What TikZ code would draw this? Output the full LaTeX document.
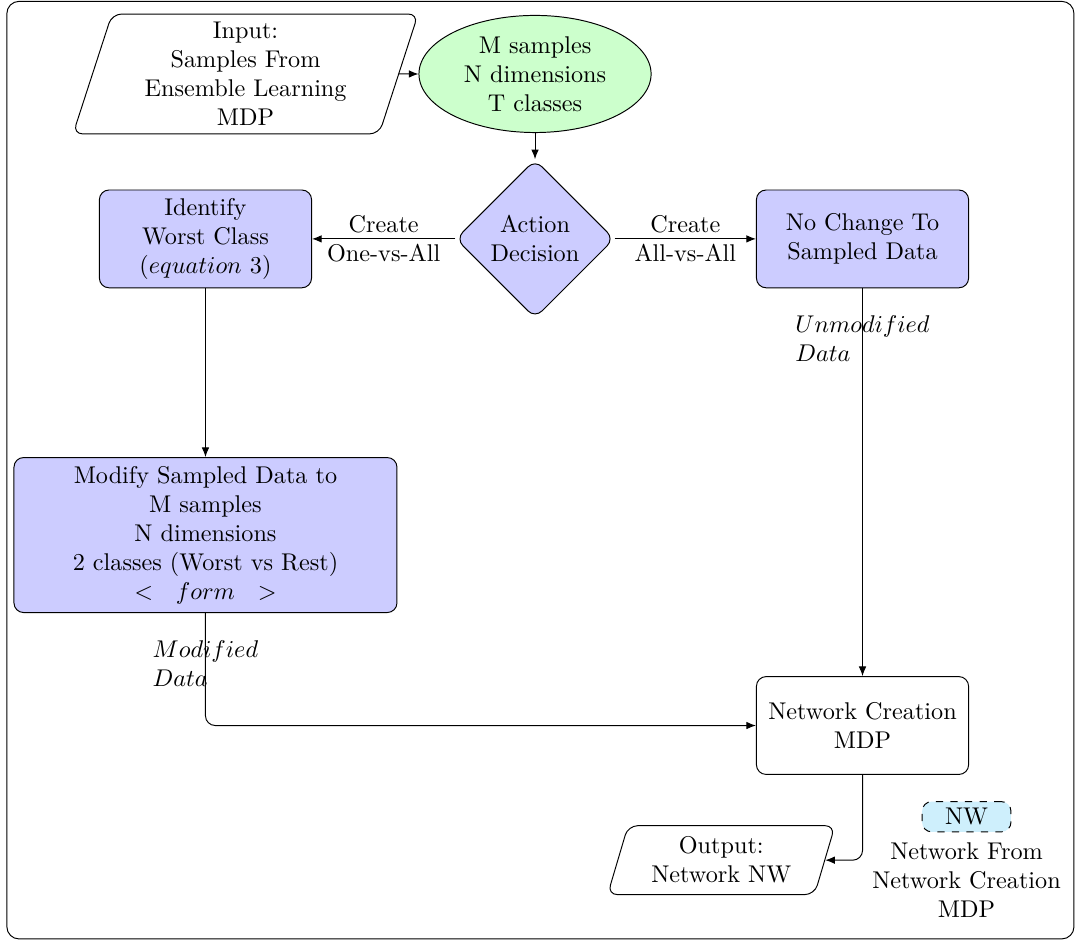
\documentclass[tikz,border=0pt]{standalone}
\usepackage[dvipsnames,svgnames,table]{xcolor}
\usepackage{tikz}
\usetikzlibrary{shapes,arrows.meta,positioning,calc,fit,backgrounds}

\begin{document}
\begin{tikzpicture}[
  process/.style={draw,rounded corners,minimum width=3.08cm,minimum height=1.42cm,
    align=center},
  io/.style={draw,trapezium,trapezium left angle=72,trapezium right angle=108,
    trapezium stretches body,rounded corners,align=center},
  decision/.style={draw,diamond,rounded corners,minimum size=2.3cm,inner sep=0pt,
    align=center},
  arrow/.style={-{Latex[length=1.4mm,width=1.1mm]}},
  datalbl/.style={align=left},
]
  \useasboundingbox (0,0) rectangle (15.62,-13.66);
  \draw[rounded corners=5pt] (0.10,-0.02) rectangle (15.59,-13.63);

  \node[io,minimum width=5.01cm,minimum height=1.74cm] (input) at (3.565,-1.074)
    {Input:\\Samples From\\Ensemble Learning\\MDP};
  \node[draw,ellipse,fill=green!20,minimum width=3.37cm,minimum height=1.7cm,
    inner sep=0pt,align=center,right=0.28cm of input] (samples)
    {M samples\\N dimensions\\T classes};
  \node[decision,fill=blue!20,below=0.38cm of samples] (decision) {Action\\Decision};
  \node[process,fill=blue!20,left=2.08cm of decision] (identify)
    {Identify\\Worst Class\\($equation$ 3)};
  \node[process,fill=blue!20,right=2.05cm of decision] (nochange)
    {No Change To\\Sampled Data};
  \node[process,fill=blue!20,minimum width=5.56cm,minimum height=2.25cm,
    below=2.45cm of identify] (modify)
    {Modify Sampled Data to\\M samples\\N dimensions\\2 classes (Worst vs Rest)\\$<\ \ form\ \ >$};
  \node[process,below=5.63cm of nochange] (network) {Network Creation\\MDP};
  \node[io,minimum width=3.3cm,minimum height=1cm,below=0.73cm of network,
    xshift=-2.05cm] (output) {Output:\\Network NW};
  \node[draw,dashed,rounded corners,fill=ProcessBlue!20,minimum width=1.29cm,
    minimum height=0.44cm,inner sep=1pt,below=0.38cm of network,xshift=1.51cm] (nw) {NW};
  \node[align=center,below=0.02cm of nw] (nwtext)
    {Network From\\Network Creation\\MDP};

  \draw[arrow] (input) -- (samples);
  \draw[arrow] (samples) -- (decision);
  \draw[arrow] (decision) -- node[align=center]{Create\\One-vs-All} (identify);
  \draw[arrow] (decision) -- node[align=center]{Create\\All-vs-All} (nochange);
  \draw[arrow] (identify) -- (modify);
  \draw[arrow] (nochange) -- node[datalbl,pos=0.13]
    {$Unmodified$\\$Data$} (network);
  \draw[arrow,rounded corners] (modify.south) |- node[datalbl,pos=0.226]
    {$Modified$\\$Data$} (network.west);
  \draw[arrow,rounded corners] (network.south) |- (output.east);
\end{tikzpicture}
\end{document}
